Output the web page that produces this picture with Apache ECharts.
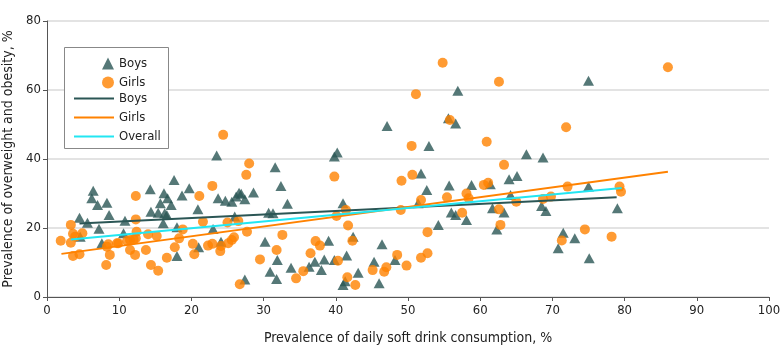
<!DOCTYPE html>
<html><head><meta charset="utf-8">
<script src="https://cdn.jsdelivr.net/npm/echarts@6/dist/echarts.min.js"></script>
<style>html,body{margin:0;padding:0;background:#fff}#c{width:783px;height:352px}</style>
</head><body><div id="c"></div>
<script>
var boysPoints = [[75.0,62.7],[56.9,59.8],[47.1,49.6],[55.6,51.8],[56.6,50.3],[52.9,43.8],[40.2,41.9],[39.8,40.7],[66.4,41.4],[68.7,40.4],[23.5,41.0],[6.4,30.8],[6.2,28.6],[7.0,26.7],[8.3,27.3],[8.6,23.8],[4.5,23.0],[5.6,21.5],[7.2,19.8],[4.6,17.5],[10.8,22.1],[10.6,18.5],[7.6,15.6],[14.3,31.2],[16.2,30.1],[15.7,27.2],[16.7,28.6],[14.4,24.7],[15.4,24.4],[16.3,24.3],[16.1,21.4],[31.6,37.6],[17.6,33.9],[19.7,31.5],[18.7,29.4],[17.2,26.7],[16.6,23.8],[20.9,25.4],[23.7,28.6],[24.7,27.9],[25.6,27.6],[26.2,29.1],[26.9,29.9],[27.4,28.3],[28.6,30.3],[32.4,32.2],[33.3,27.0],[26.0,23.3],[30.7,24.4],[31.3,24.3],[23.0,19.7],[18.0,20.2],[24.1,16.0],[21.0,14.4],[18.0,11.9],[30.2,16.0],[31.9,10.7],[30.9,7.3],[31.8,5.2],[33.8,8.5],[27.4,5.1],[51.8,35.8],[52.6,31.0],[41.0,27.2],[42.4,17.5],[39.0,16.3],[46.4,15.3],[41.5,12.0],[38.4,10.9],[37.1,10.2],[39.8,10.7],[36.3,8.8],[38.0,7.8],[45.3,10.2],[48.2,10.7],[43.1,7.0],[41.0,3.5],[41.3,4.6],[46.0,4.0],[51.4,27.2],[54.2,20.9],[55.7,32.3],[56.0,24.5],[56.6,23.8],[58.1,22.3],[58.8,32.5],[61.4,32.7],[61.7,25.7],[62.3,19.6],[63.3,24.5],[64.0,34.1],[65.1,35.1],[64.2,29.6],[68.5,26.4],[69.1,24.9],[70.8,14.1],[71.5,18.6],[73.1,17.0],[75.0,32.0],[75.1,11.2],[79.0,25.7],[26.6,30.2]];
var girlsPoints = [[86.0,66.6],[71.9,49.2],[54.8,67.9],[62.6,62.4],[51.1,58.8],[55.8,51.3],[50.5,43.8],[60.9,45.0],[24.4,47.0],[28.0,38.7],[27.6,35.4],[22.9,32.2],[21.1,29.3],[12.3,29.3],[12.3,22.5],[21.6,21.8],[25.0,21.6],[26.5,22.0],[27.7,18.9],[18.8,19.6],[32.6,18.0],[3.3,20.9],[1.9,16.3],[3.6,18.3],[3.9,17.5],[4.9,18.5],[3.3,15.7],[3.6,11.9],[4.5,12.4],[8.2,9.3],[8.7,12.2],[8.3,14.6],[8.5,15.3],[9.7,15.6],[9.9,15.6],[11.1,16.3],[11.5,16.5],[12.0,16.7],[12.4,18.9],[12.3,17.0],[11.5,13.6],[12.2,12.2],[13.7,13.6],[14.0,18.2],[15.2,17.7],[14.4,9.3],[15.4,7.6],[16.6,11.4],[17.7,14.4],[18.3,17.0],[20.2,15.4],[20.4,12.4],[22.3,14.9],[22.9,15.4],[24.0,13.3],[24.1,14.8],[25.1,15.6],[25.6,16.5],[25.9,17.3],[26.7,3.7],[29.5,10.9],[31.8,13.6],[34.5,5.4],[39.8,34.9],[49.1,33.7],[50.6,35.4],[51.8,28.1],[49.0,25.2],[41.4,25.2],[40.1,23.5],[41.7,20.7],[42.3,16.3],[52.7,18.8],[37.2,16.2],[37.8,14.9],[36.5,12.7],[40.3,10.5],[35.5,7.5],[41.6,5.7],[42.7,3.5],[45.1,7.8],[46.7,7.3],[47.0,8.6],[48.5,12.2],[49.8,9.1],[51.8,11.4],[52.7,12.7],[55.4,28.9],[57.5,24.4],[58.1,30.0],[58.4,28.6],[60.5,32.5],[61.1,33.1],[63.3,38.3],[62.6,25.4],[62.8,20.9],[65.0,27.6],[68.7,28.4],[69.8,29.1],[71.3,16.4],[72.1,32.0],[79.3,32.0],[79.5,30.5],[74.5,19.6],[78.2,17.5]];
var boysFit = [[4.5,21.3],[78.9,28.9]];
var girlsFit = [[2.0,12.5],[86.0,36.3]];
var overallFit = [[3.3,16.7],[79.6,31.6]];
var legendNames = {boysPts:'Boys', girlsPts:'Girls', boysLine:'Boys', girlsLine:'Girls', overallLine:'Overall'};

var cBoys = '#2b5655', cGirls = '#ff8200', cAll = '#22e6f2';
var font = '"DejaVu Sans Condensed", "Liberation Sans Narrow", sans-serif';
var chart = echarts.init(document.getElementById('c'), null, {renderer:'canvas'});
var axisLine = {show:true, lineStyle:{color:'#555', width:1}};
chart.setOption({
  animation:false,
  textStyle:{fontFamily:font},
  grid:{left:47, right:14, top:21, bottom:55, containLabel:false, outerBoundsMode:'none'},
  graphic:[{type:'rect', left:64, top:47, shape:{width:104, height:101}, style:{fill:'#fff', stroke:'#888', lineWidth:1}, z:50}],
  legend:[
    {data:['boysPts','girlsPts'], orient:'vertical', left:102, top:57, padding:0, itemWidth:12, itemHeight:12, itemGap:6,
     formatter:function(n){return legendNames[n];}, textStyle:{fontFamily:font, fontSize:13, lineHeight:12, color:'#222'}, selectedMode:false, z:60},
    {data:[{name:'boysLine', icon:'rect'},{name:'girlsLine', icon:'rect'},{name:'overallLine', icon:'rect'}], orient:'vertical', left:74, top:92, padding:0, itemWidth:40, itemHeight:2, itemGap:6,
     formatter:function(n){return legendNames[n];}, textStyle:{fontFamily:font, fontSize:13, lineHeight:12, color:'#222'}, selectedMode:false, z:60}
  ],
  xAxis:{type:'value', min:0, max:100, interval:10,
    name:'Prevalence of daily soft drink consumption, %', nameLocation:'middle', nameGap:34,
    nameTextStyle:{fontFamily:font, fontSize:14, color:'#222'},
    axisLine:axisLine, axisTick:{show:true, length:4, lineStyle:{color:'#555'}},
    axisLabel:{fontFamily:font, fontSize:13, color:'#222', margin:7},
    splitLine:{show:false}},
  yAxis:{type:'value', min:0, max:80, interval:20,
    name:'Prevalence of overweight and obesity, %', nameLocation:'middle', nameGap:28,
    nameTextStyle:{fontFamily:font, fontSize:14, color:'#222'},
    axisLine:axisLine, axisTick:{show:true, length:4, lineStyle:{color:'#555'}},
    axisLabel:{fontFamily:font, fontSize:13, color:'#222', margin:6},
    splitLine:{show:true, lineStyle:{color:'#e3e3e3', width:2}}},
  series:[
    {name:'boysPts', type:'scatter', data:boysPoints, symbol:'triangle', symbolSize:[11,10], itemStyle:{color:cBoys}, z:3},
    {name:'girlsPts', type:'scatter', data:girlsPoints, symbol:'circle', symbolSize:10, itemStyle:{color:cGirls}, z:4},
    {name:'boysLine', type:'line', data:boysFit, symbol:'none', lineStyle:{color:cBoys, width:2}, itemStyle:{color:cBoys}, z:5},
    {name:'girlsLine', type:'line', data:girlsFit, symbol:'none', lineStyle:{color:cGirls, width:2}, itemStyle:{color:cGirls}, z:5},
    {name:'overallLine', type:'line', data:overallFit, symbol:'none', lineStyle:{color:cAll, width:2}, itemStyle:{color:cAll}, z:6}
  ]
});
</script></body></html>
